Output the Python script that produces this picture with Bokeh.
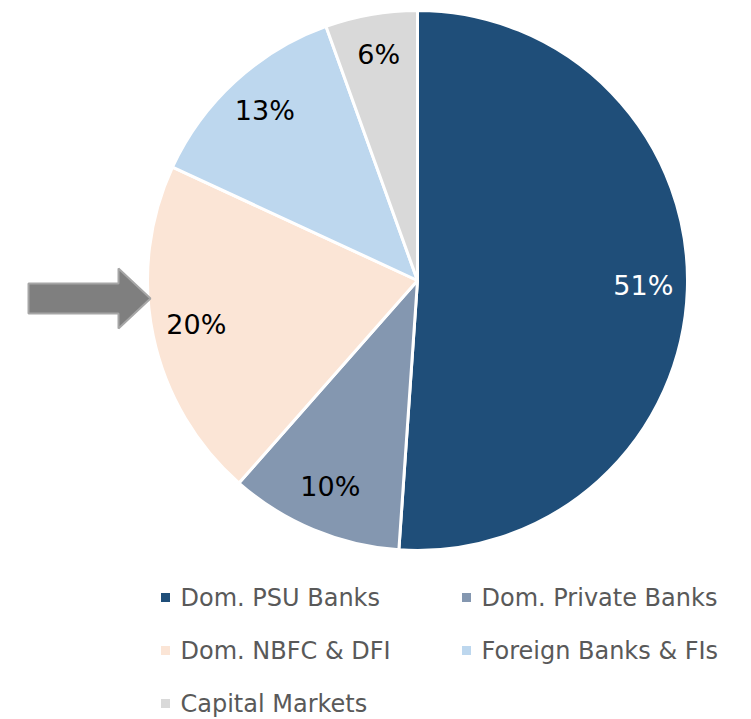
import math
from bokeh.plotting import figure
from bokeh.models import Range1d, ColumnDataSource
from bokeh.core.properties import value
from bokeh.embed import file_html
from bokeh.resources import INLINE

# ---- data ----
categories = ["Dom. PSU Banks", "Dom. Private Banks", "Dom. NBFC & DFI",
              "Foreign Banks & FIs", "Capital Markets"]
shares = [51.1, 10.4, 20.4, 12.6, 5.5]
labels = ["51%", "10%", "20%", "13%", "6%"]
colors = ["#1F4E79", "#8497B0", "#FBE5D6", "#BDD7EE", "#D9D9D9"]
label_colors = ["white", "black", "black", "black", "black"]

FONT = "DejaVu Sans"
W, H = 751, 719
cx, cy, R = 417, -280, 270

p = figure(width=W, height=H, output_backend="svg", toolbar_location=None,
           x_range=Range1d(0, W), y_range=Range1d(-H, 0),
           min_border=0, outline_line_color=None)
p.axis.visible = False
p.grid.visible = False
p.background_fill_color = "white"
p.border_fill_color = "white"

total = sum(shares)
starts, ends, lx, ly = [], [], [], []
acc = 0.0
for s in shares:
    a0 = math.pi / 2 - 2 * math.pi * acc / total
    acc += s
    a1 = math.pi / 2 - 2 * math.pi * acc / total
    starts.append(a1)
    ends.append(a0)
    mid = (a0 + a1) / 2
    lx.append(cx + 226 * math.cos(mid))
    ly.append(cy + 226 * math.sin(mid) + 3)

src = ColumnDataSource(dict(start=starts, end=ends, color=colors,
                            lx=lx, ly=ly, label=labels, lc=label_colors))
p.wedge(x=cx, y=cy, radius=R, start_angle="start", end_angle="end",
        fill_color="color", line_color="white", line_width=3, source=src)
p.text(x="lx", y="ly", text="label", text_color="lc", source=src,
       text_font=value(FONT), text_font_size="27px",
       text_align="center", text_baseline="middle")

# block arrow pointing at the NBFC slice
ax = [28, 118, 118, 150, 118, 118, 28]
ay = [-283, -283, -268, -298, -328, -313, -313]
p.patch(ax, ay, fill_color="#7F7F7F", line_color="#A6A6A6", line_width=2)

# legend
mx, my, tx = [], [], []
for i, _ in enumerate(categories):
    col, row = i % 2, i // 2
    mx.append(165 + col * 301)
    my.append(-(597 + row * 53))
    tx.append(180 + col * 301)
lsrc = ColumnDataSource(dict(mx=mx, my=my, tx=tx, name=categories, color=colors))
p.scatter(x="mx", y="my", marker="square", size=9, fill_color="color",
          line_color=None, source=lsrc)
p.text(x="tx", y="my", text="name", source=lsrc, text_color="#595959",
       text_font=value(FONT), text_font_size="24px", text_baseline="middle")

open("out.html", "w").write(file_html(p, INLINE))
